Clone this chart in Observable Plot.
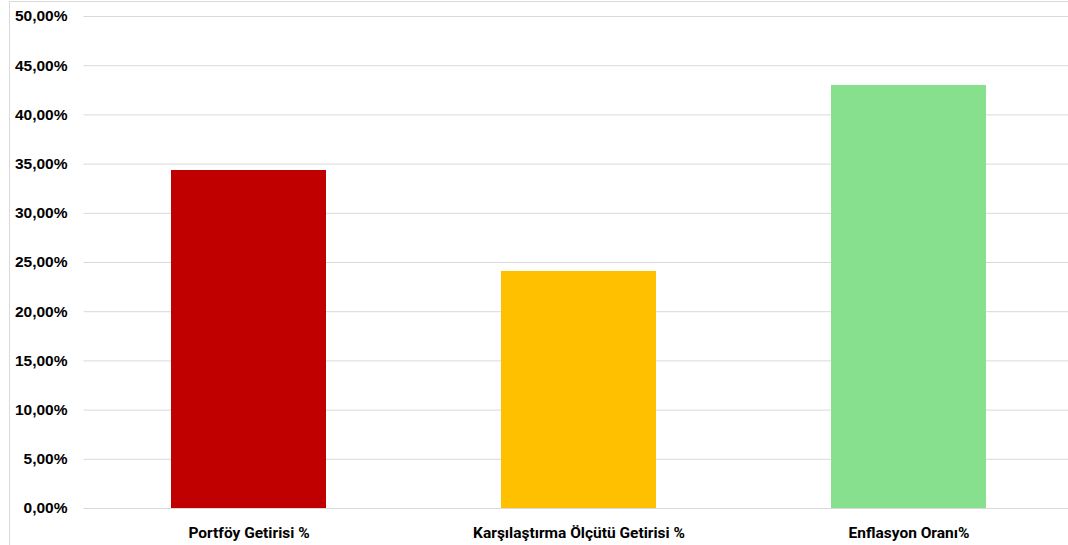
<!DOCTYPE html>
<html>
<head>
<meta charset="utf-8">
<script src="https://cdn.jsdelivr.net/npm/d3@7"></script>
<script src="https://cdn.jsdelivr.net/npm/@observablehq/plot@0.6"></script>
<style>
  html, body { margin: 0; padding: 0; background: #fff; overflow: hidden; }
  #wrap { position: relative; width: 1068px; height: 545px; overflow: hidden; }
  #frame { position: absolute; left: 9px; top: 1px; width: 1200px; height: 600px;
           border-left: 1px solid #d9d9d9; border-top: 1px solid #d9d9d9; pointer-events: none; }
  #chart { position: absolute; left: 0; top: 0; width: 1074px; }
  #chart svg { max-width: none !important; }
</style>
</head>
<body>
<div id="wrap"><div id="chart"></div><div id="frame"></div></div>
<script>
const categories = ["Portföy Getirisi %", "Karşılaştırma Ölçütü Getirisi %", "Enflasyon Oranı%"];
const values = [0.3435, 0.2409, 0.4299];
const colors = ["#C00000", "#FFC000", "#86E08E"];
const yTicks = [0, 0.05, 0.10, 0.15, 0.20, 0.25, 0.30, 0.35, 0.40, 0.45, 0.50];

const data = categories.map((c, i) => ({category: c, value: values[i], color: colors[i]}));
const tr = d3.formatLocale({decimal: ",", thousands: ".", grouping: [3], currency: ["", "TL"]});
const pct = tr.format(".2%");

const chart = Plot.plot({
  width: 1074,
  height: 545,
  marginTop: 16,
  marginBottom: 37,
  marginLeft: 83.5,
  marginRight: 0,
  style: {background: "transparent", color: "#000", maxWidth: "none"},
  x: {domain: categories, paddingInner: 0.53, paddingOuter: 0.265, label: null, tickSize: 0},
  y: {domain: [0, 0.5], ticks: yTicks, tickFormat: pct, label: null, tickSize: 0},
  marks: [
    Plot.gridY(yTicks, {stroke: "#d9d9d9", strokeOpacity: 1, strokeWidth: 1}),
    Plot.barY(data, {x: "category", y: "value", fill: "color"}),
    Plot.axisY({ticks: yTicks, tickFormat: pct, tickSize: 0, tickPadding: 16.5,
      fontSize: 15.5, fontWeight: "bold", fontFamily: "Liberation Sans, Arial, sans-serif", label: null}),
    Plot.axisX({tickSize: 0, tickPadding: 18, fontSize: 15.5, fontWeight: "bold",
      fontFamily: "Roboto, sans-serif", label: null})
  ]
});
document.getElementById("chart").appendChild(chart);
</script>
</body>
</html>
